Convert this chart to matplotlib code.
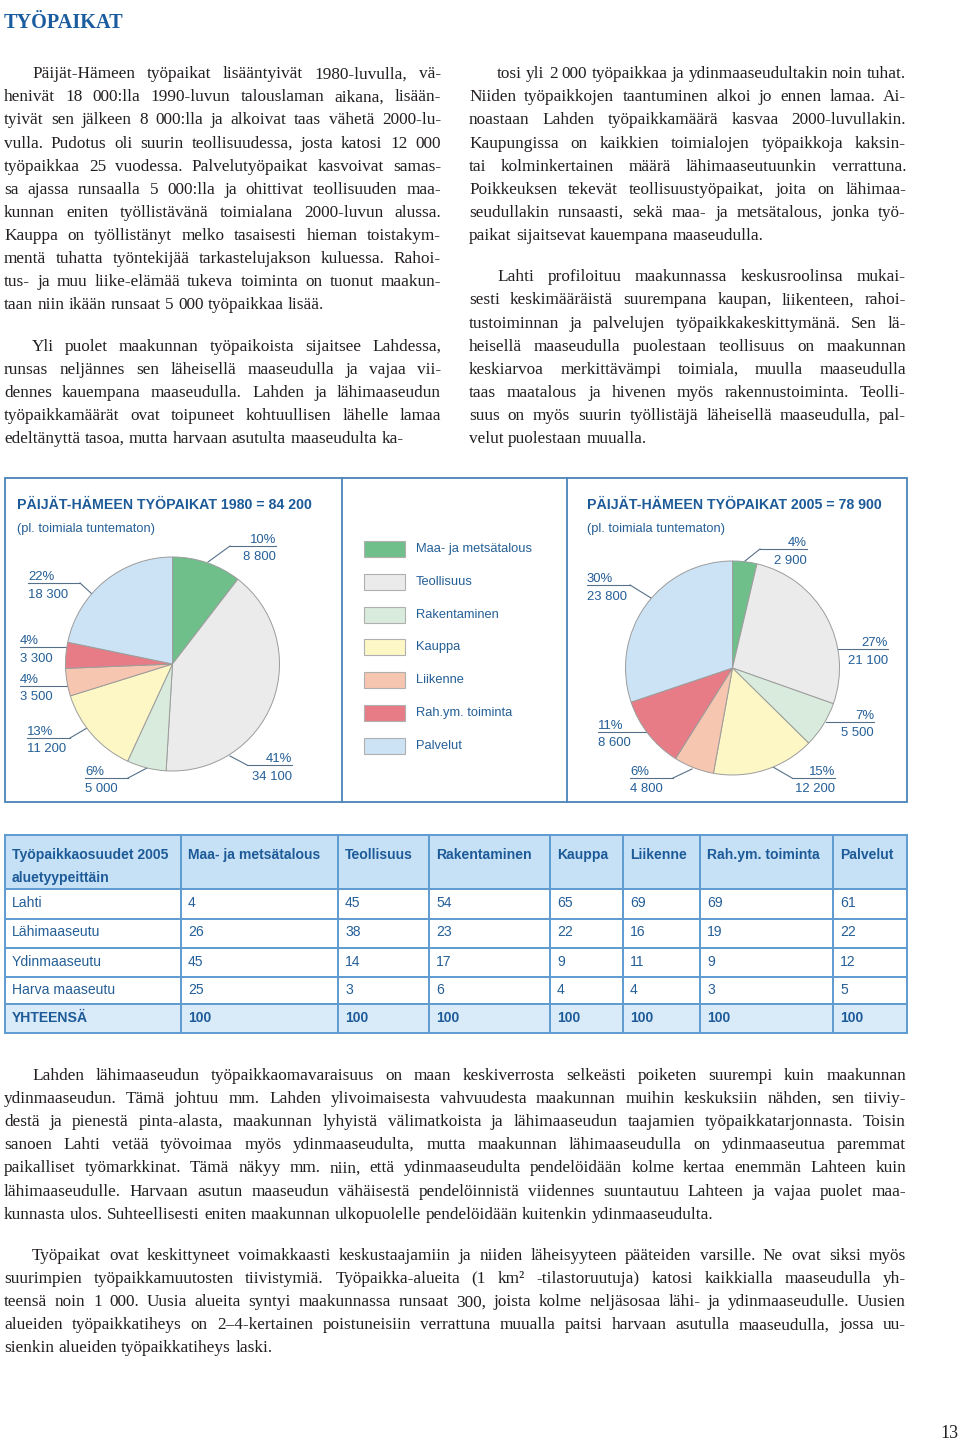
import matplotlib
matplotlib.use('Agg')
import matplotlib.pyplot as plt
from matplotlib import font_manager
from matplotlib.patches import Rectangle

# data
categories = ['Maa- ja metsätalous', 'Teollisuus', 'Rakentaminen', 'Kauppa',
              'Liikenne', 'Rah.ym. toiminta', 'Palvelut']
jobs_1980 = [8800, 34100, 5000, 11200, 3500, 3300, 18300]
pct_1980 = [10, 41, 6, 13, 4, 4, 22]
total_1980 = 84200
jobs_2005 = [2900, 21100, 5500, 12200, 4800, 8600, 23800]
pct_2005 = [4, 27, 7, 15, 6, 11, 30]
total_2005 = 78900

regions = ['Lahti', 'Lähimaaseutu', 'Ydinmaaseutu', 'Harva maaseutu']
share_lahti = [4, 45, 54, 65, 69, 69, 61]
share_lahi = [26, 38, 23, 22, 16, 19, 22]
share_ydin = [45, 14, 17, 9, 11, 9, 12]
share_harva = [25, 3, 6, 4, 4, 3, 5]

left_p1 = [
    "Päijät-Hämeen työpaikat lisääntyivät 1980-luvulla, vä-",
    "henivät 18 000:lla 1990-luvun talouslaman aikana, lisään-",
    "tyivät sen jälkeen 8 000:lla ja alkoivat taas vähetä 2000-lu-",
    "vulla. Pudotus oli suurin teollisuudessa, josta katosi 12 000",
    "työpaikkaa 25 vuodessa. Palvelutyöpaikat kasvoivat samas-",
    "sa ajassa runsaalla 5 000:lla ja ohittivat teollisuuden maa-",
    "kunnan eniten työllistävänä toimialana 2000-luvun alussa.",
    "Kauppa on työllistänyt melko tasaisesti hieman toistakym-",
    "mentä tuhatta työntekijää tarkastelujakson kuluessa. Rahoi-",
    "tus- ja muu liike-elämää tukeva toiminta on tuonut maakun-",
    "taan niin ikään runsaat 5 000 työpaikkaa lisää.",
]
left_p2 = [
    "Yli puolet maakunnan työpaikoista sijaitsee Lahdessa,",
    "runsas neljännes sen läheisellä maaseudulla ja vajaa vii-",
    "dennes kauempana maaseudulla. Lahden ja lähimaaseudun",
    "työpaikkamäärät ovat toipuneet kohtuullisen lähelle lamaa",
    "edeltänyttä tasoa, mutta harvaan asutulta maaseudulta ka-",
]
right_p2 = [
    "tosi yli 2 000 työpaikkaa ja ydinmaaseudultakin noin tuhat.",
    "Niiden työpaikkojen taantuminen alkoi jo ennen lamaa. Ai-",
    "noastaan Lahden työpaikkamäärä kasvaa 2000-luvullakin.",
    "Kaupungissa on kaikkien toimialojen työpaikkoja kaksin-",
    "tai kolminkertainen määrä lähimaaseutuunkin verrattuna.",
    "Poikkeuksen tekevät teollisuustyöpaikat, joita on lähimaa-",
    "seudullakin runsaasti, sekä maa- ja metsätalous, jonka työ-",
    "paikat sijaitsevat kauempana maaseudulla.",
]
right_p3 = [
    "Lahti profiloituu maakunnassa keskusroolinsa mukai-",
    "sesti keskimääräistä suurempana kaupan, liikenteen, rahoi-",
    "tustoiminnan ja palvelujen työpaikkakeskittymänä. Sen lä-",
    "heisellä maaseudulla puolestaan teollisuus on maakunnan",
    "keskiarvoa merkittävämpi toimiala, muulla maaseudulla",
    "taas maatalous ja hivenen myös rakennustoiminta. Teolli-",
    "suus on myös suurin työllistäjä läheisellä maaseudulla, pal-",
    "velut puolestaan muualla.",
]
bottom_p1 = [
    "Lahden lähimaaseudun työpaikkaomavaraisuus on maan keskiverrosta selkeästi poiketen suurempi kuin maakunnan",
    "ydinmaaseudun. Tämä johtuu mm. Lahden ylivoimaisesta vahvuudesta maakunnan muihin keskuksiin nähden, sen tiiviy-",
    "destä ja pienestä pinta-alasta, maakunnan lyhyistä välimatkoista ja lähimaaseudun taajamien työpaikkatarjonnasta. Toisin",
    "sanoen Lahti vetää työvoimaa myös ydinmaaseudulta, mutta maakunnan lähimaaseudulla on ydinmaaseutua paremmat",
    "paikalliset työmarkkinat. Tämä näkyy mm. niin, että ydinmaaseudulta pendelöidään kolme kertaa enemmän Lahteen kuin",
    "lähimaaseudulle. Harvaan asutun maaseudun vähäisestä pendelöinnistä viidennes suuntautuu Lahteen ja vajaa puolet maa-",
    "kunnasta ulos. Suhteellisesti eniten maakunnan ulkopuolelle pendelöidään kuitenkin ydinmaaseudulta.",
]
bottom_p2 = [
    "Työpaikat ovat keskittyneet voimakkaasti keskustaajamiin ja niiden läheisyyteen pääteiden varsille. Ne ovat siksi myös",
    "suurimpien työpaikkamuutosten tiivistymiä. Työpaikka-alueita (1 km² -tilastoruutuja) katosi kaikkialla maaseudulla yh-",
    "teensä noin 1 000. Uusia alueita syntyi maakunnassa runsaat 300, joista kolme neljäsosaa lähi- ja ydinmaaseudulle. Uusien",
    "alueiden työpaikkatiheys on 2–4-kertainen poistuneisiin verrattuna muualla paitsi harvaan asutulla maaseudulla, jossa uu-",
    "sienkin alueiden työpaikkatiheys laski.",
]

# styles
COLORS = ['#6fbf8a', '#ebebeb', '#d9ebdc', '#fdf7c6', '#f6c6b0', '#e87c86', '#cce3f5']
INK = '#231f20'
BLUE = '#255f97'
HEAD = '#1d5a98'
FRAME = '#4a84b9'
LEAD = '#56708a'
TLINE = '#5e9bd0'

names = {f.name for f in font_manager.fontManager.ttflist}
if 'Liberation Sans Narrow' in names:
    SANS, k = 'Liberation Sans Narrow', 1.0
else:
    SANS, k = 'Liberation Sans', 0.84
SERIF = 'Liberation Serif'

W, H = 960, 1442
fig = plt.figure(figsize=(W / 100, H / 100), dpi=100)
page = fig.add_axes([0, 0, 1, 1])
page.set_xlim(0, W)
page.set_ylim(H, 0)
page.axis('off')
R = fig.canvas.get_renderer()

BODY = 12.4
LS = 23.1


def para(lines, x0, x1, y0, indent=28):
    # justified lines, last line left as is
    for i, s in enumerate(lines):
        words = s.split(' ')
        y = y0 + i * LS
        left = x0 + (indent if i == 0 else 0)
        ts = [page.text(0, y, w, family=SERIF, fontsize=BODY, color=INK, va='baseline') for w in words]
        ws = [t.get_window_extent(R).width for t in ts]
        if i == len(lines) - 1 or len(words) == 1:
            gap = 0.25 * BODY * 100 / 72
        else:
            gap = (x1 - left - sum(ws)) / (len(words) - 1)
        x = left
        for t, w in zip(ts, ws):
            t.set_x(x)
            x += w + gap


page.text(4, 28, 'TYÖPAIKAT', family=SERIF, fontsize=14.6, weight='bold', color='#1a5c9e', va='baseline')

para(left_p1, 4, 441, 78.3)
para(left_p2, 4, 441, 350.6)
para(right_p2, 469, 906, 78.3)
para(right_p3, 469, 906, 281.3)
para(bottom_p1, 4, 906, 1080)
para(bottom_p2, 4, 906, 1260)

page.text(959, 1438, '13', family=SERIF, fontsize=13, color=INK, ha='right', va='baseline')

# chart panel
page.add_patch(Rectangle((5, 478), 902, 324, fill=False, ec=FRAME, lw=1.3))
page.plot([342, 342], [478, 802], color=FRAME, lw=1.3)
page.plot([567, 567], [478, 802], color=FRAME, lw=1.3)


def fmt(v):
    return f'{v:,}'.replace(',', ' ')


def pie(cx, cy, values, total, pcts, specs, hx, year):
    r = 107
    lim = 1.03
    h = r * lim
    ax = fig.add_axes([(cx - h) / W, 1 - (cy + h) / H, 2 * h / W, 2 * h / H])
    ax.pie(values, colors=COLORS, startangle=90, counterclock=False, radius=1,
           wedgeprops=dict(edgecolor='#9c9c9c', linewidth=0.7))
    ax.set_xlim(-lim, lim)
    ax.set_ylim(-lim, lim)
    ax.axis('off')
    page.text(hx, 509, f'PÄIJÄT-HÄMEEN TYÖPAIKAT {year} = {fmt(total)}', family=SANS,
              fontsize=12.1 * k, weight='bold', color=HEAD, va='baseline')
    page.text(hx, 532, '(pl. toimiala tuntematon)', family=SANS, fontsize=11 * k,
              color=BLUE, va='baseline')
    for p, v, (side, u, xa, xb, lead) in zip(pcts, values, specs):
        page.plot([xa, xb], [u, u], color=LEAD, lw=0.8)
        if lead:
            xf = xa if side == 'r' else xb
            page.plot([xf, lead[0]], [u, lead[1]], color=LEAD, lw=0.8)
        tx = xb if side == 'r' else xa
        ha = 'right' if side == 'r' else 'left'
        page.text(tx, u - 3, f'{p}%', family=SANS, fontsize=11.3 * k, color=BLUE, ha=ha, va='baseline')
        page.text(tx, u + 14.5, fmt(v), family=SANS, fontsize=11.3 * k, color=BLUE, ha=ha, va='baseline')


specs_1980 = [('r', 546, 230, 276, (208, 562)),
              ('r', 765, 247, 292, (230, 756)),
              ('l', 778, 85, 128, (147, 768)),
              ('l', 738, 27, 70, (87, 728)),
              ('l', 686, 20, 68, None),
              ('l', 647, 20, 68, None),
              ('l', 583, 28, 80, (92, 594))]
specs_2005 = [('r', 549, 760, 807, (745, 561)),
              ('r', 649, 838, 888, None),
              ('r', 722, 826, 874, None),
              ('r', 778, 792, 835, (773, 767)),
              ('l', 778, 630, 673, (692, 769)),
              ('l', 732, 598, 647, None),
              ('l', 585, 587, 630, (651, 598))]

pie(172.5, 664, jobs_1980, total_1980, pct_1980, specs_1980, 17, 1980)
pie(732.5, 668, jobs_2005, total_2005, pct_2005, specs_2005, 587, 2005)

# legend
for i, (cat, c) in enumerate(zip(categories, COLORS)):
    yc = 549 + 32.8 * i
    page.add_patch(Rectangle((364, yc - 8), 41, 16, fc=c, ec='#b0b0b0', lw=0.8))
    page.text(416, yc, cat, family=SANS, fontsize=11 * k, color=BLUE, va='center')

# table
xs = [5, 181, 338, 429, 550, 623, 700, 833, 907]
ys = [835, 889, 919, 948, 977, 1004, 1033]
rows = [share_lahti, share_lahi, share_ydin, share_harva]
totals = [sum(col) for col in zip(*rows)]

page.add_patch(Rectangle((xs[0], ys[0]), xs[-1] - xs[0], ys[1] - ys[0], fc='#c6e1f5', ec='none'))
page.add_patch(Rectangle((xs[0], ys[5]), xs[-1] - xs[0], ys[6] - ys[5], fc='#d9eaf8', ec='none'))
for x in xs:
    page.plot([x, x], [ys[0], ys[-1]], color=TLINE, lw=1.4)
for y in ys:
    page.plot([xs[0], xs[-1]], [y, y], color=TLINE, lw=1.4)

page.text(xs[0] + 7, 859, 'Työpaikkaosuudet 2005', family=SANS, fontsize=12 * k,
          weight='bold', color=HEAD, va='baseline')
page.text(xs[0] + 7, 882, 'aluetyypeittäin', family=SANS, fontsize=12 * k,
          weight='bold', color=HEAD, va='baseline')
for j, cat in enumerate(categories):
    page.text(xs[j + 1] + 7, 859, cat, family=SANS, fontsize=12 * k,
              weight='bold', color=HEAD, va='baseline')
for i, (reg, vals) in enumerate(zip(regions, rows)):
    yc = (ys[i + 1] + ys[i + 2]) / 2 - 1
    page.text(xs[0] + 7, yc, reg, family=SANS, fontsize=12 * k, color=BLUE, va='center')
    for j, v in enumerate(vals):
        page.text(xs[j + 1] + 7, yc, str(v), family=SANS, fontsize=12 * k, color=BLUE, va='center')
yc = (ys[5] + ys[6]) / 2
page.text(xs[0] + 7, yc, 'YHTEENSÄ', family=SANS, fontsize=12 * k, weight='bold', color=HEAD, va='center')
for j, v in enumerate(totals):
    page.text(xs[j + 1] + 7, yc, str(v), family=SANS, fontsize=12 * k, weight='bold', color=HEAD, va='center')

fig.savefig('out.png', dpi=100)
